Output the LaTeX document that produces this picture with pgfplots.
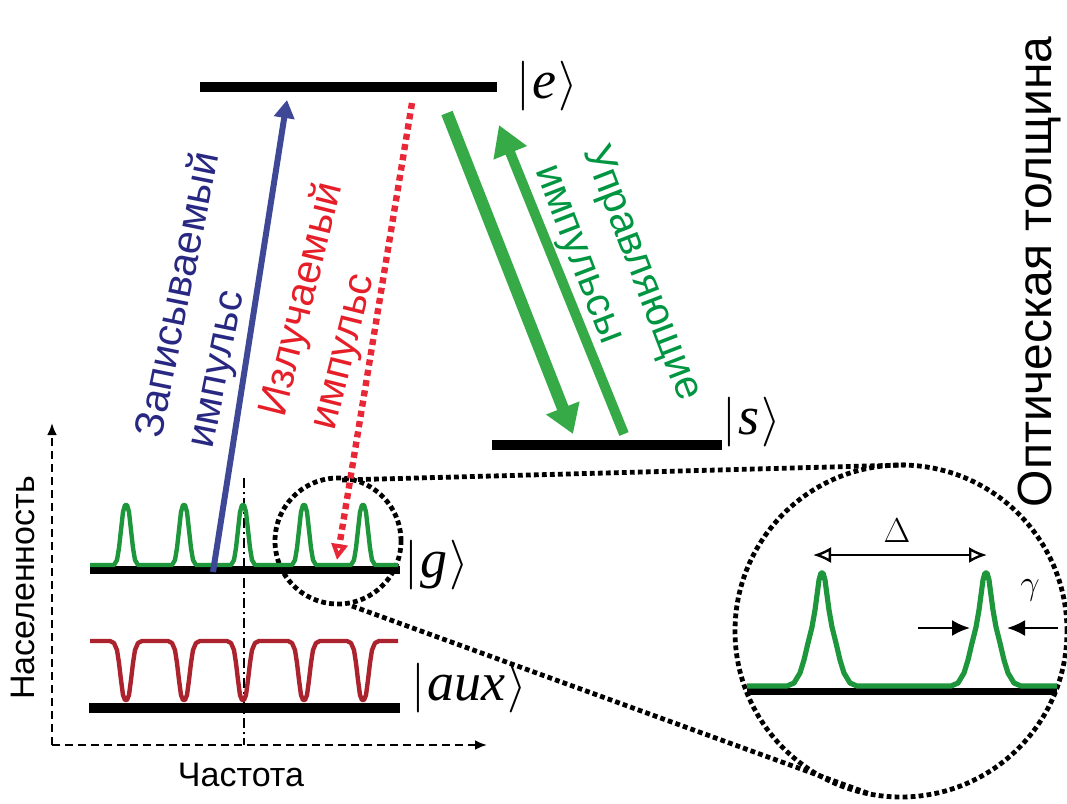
\documentclass[border=0pt]{standalone}
\usepackage{pgfplots}
\pgfplotsset{compat=1.18}
\usepackage{fontspec}
\setmainfont{Liberation Sans}
\newfontfamily\timesf{Liberation Serif}
\usepackage{graphicx}
\usetikzlibrary{arrows.meta}
\definecolor{blueA}{RGB}{62,72,150}
\definecolor{blueT}{RGB}{40,40,130}
\definecolor{redA}{RGB}{232,40,55}
\definecolor{redT}{RGB}{230,30,40}
\definecolor{greenA}{RGB}{55,170,72}
\definecolor{greenT}{RGB}{0,150,65}
\definecolor{greenC}{RGB}{30,150,60}
\definecolor{darkredC}{RGB}{170,35,45}
\newcommand{\ket}[1]{$\vert$\kern1pt{\timesf\itshape #1}\kern1pt$\rangle$}
\begin{document}
\begin{tikzpicture}
\begin{axis}[
  scale only axis, width=533.5pt, height=402pt,
  xmin=0, xmax=1067, ymin=0, ymax=804, y dir=reverse,
  hide axis, clip=false,
]
% dotted circles and connecting lines
\draw[line width=2.4pt, dash pattern=on 2.4pt off 1.6pt] (axis cs:338,541) circle[radius=31.5pt];
\draw[line width=2.4pt, dash pattern=on 2.4pt off 1.6pt] (axis cs:901,631) circle[radius=83pt];
\addplot[line width=2.4pt, dash pattern=on 2.4pt off 1.6pt] coordinates {(342,480) (905,465)};
\addplot[line width=2.4pt, dash pattern=on 2.4pt off 1.6pt] coordinates {(352,606) (870,794)};
% frequency / population axes
\addplot[line width=1.3pt, dash pattern=on 4pt off 2.5pt, -{Latex[length=6pt,width=5pt]}] coordinates {(52,745) (52,423)};
\addplot[line width=1.3pt, dash pattern=on 4pt off 2.5pt, -{Latex[length=6pt,width=5pt]}] coordinates {(52,745) (487,745)};
\addplot[line width=1.3pt, dash pattern=on 5pt off 2pt on 1pt off 2pt] coordinates {(244,478) (244,745)};
% energy levels
\addplot[line width=5pt, black] coordinates {(200,87) (497,87)};
\addplot[line width=5pt, black] coordinates {(492,445) (722,445)};
\addplot[line width=4pt, black] coordinates {(90,570) (400,570)};
\addplot[line width=5pt, black] coordinates {(89,708) (400,708)};
\addplot[line width=3.5pt, black] coordinates {(747,691) (1057,691)};
% green comb |g>
\addplot[line width=2.2pt, greenC, line join=round] coordinates {
(90,565)
(114,565)(117,560)(119,548)(121,530)(123,512)(125,505)(127,505)(129,512)(131,530)(133,548)(135,560)(138,565)
(172,565)(175,560)(177,548)(179,530)(181,512)(183,505)(185,505)(187,512)(189,530)(191,548)(193,560)(196,565)
(231,565)(234,560)(236,548)(238,530)(240,512)(242,505)(244,505)(246,512)(248,530)(250,548)(252,560)(255,565)
(292,565)(295,560)(297,548)(299,530)(301,512)(303,505)(305,505)(307,512)(309,530)(311,548)(313,560)(316,565)
(351,565)(354,560)(356,548)(358,530)(360,512)(362,505)(364,505)(366,512)(368,530)(370,548)(372,560)(375,565)
(398,565)};
% red comb |aux>
\addplot[line width=2.2pt, darkredC, line join=round] coordinates {
(90,641)
(110,641)(114,643)(117,650)(119,663)(121,680)(123,695)(125,700)(127,700)(129,695)(131,680)(133,663)(135,650)(138,643)(142,641)
(168,641)(172,643)(175,650)(177,663)(179,680)(181,695)(183,700)(185,700)(187,695)(189,680)(191,663)(193,650)(196,643)(200,641)
(227,641)(231,643)(234,650)(236,663)(238,680)(240,695)(242,700)(244,700)(246,695)(248,680)(250,663)(252,650)(255,643)(259,641)
(288,641)(292,643)(295,650)(297,663)(299,680)(301,695)(303,700)(305,700)(307,695)(309,680)(311,663)(313,650)(316,643)(320,641)
(347,641)(351,643)(354,650)(356,663)(358,680)(360,695)(362,700)(364,700)(366,695)(368,680)(370,663)(372,650)(375,643)(379,641)
(398,641)};
% zoomed comb
\addplot[line width=2.6pt, greenC, line join=round] coordinates {
(747,686)
(787,686)(794,683)(800,673)(804,660)(808,643)(812,627)(815,610)(817,595)(819,580)(821,573)(823,573)(825,580)(827,595)(829,610)(832,627)(836,643)(840,660)(844,673)(850,683)(857,686)
(951,686)(958,683)(964,673)(968,660)(972,643)(976,627)(979,610)(981,595)(983,580)(985,573)(987,573)(989,580)(991,595)(993,610)(996,627)(1000,643)(1004,660)(1008,673)(1014,683)(1021,686)
(1057,686)};
% Delta and gamma arrows
\addplot[line width=1.2pt, {Latex[open,length=9pt,width=8pt,fill=white]}-{Latex[open,length=9pt,width=8pt,fill=white]}] coordinates {(813,555) (987,555)};
\addplot[line width=1.2pt, -{Latex[length=9pt,width=8pt]}] coordinates {(918,628) (970,628)};
\addplot[line width=1.2pt, -{Latex[length=9pt,width=8pt]}] coordinates {(1058,628) (1007,628)};
% transitions
\addplot[line width=3pt, blueA, -{Triangle[length=9pt,width=10pt]}] coordinates {(213,572) (287,100)};
\addplot[line width=3.2pt, redA, dash pattern=on 3pt off 2.2pt, -{Triangle[open,length=8pt,width=8pt,fill=white]}] coordinates {(412,103) (337,560)};
\addplot[line width=6pt, greenA, -{Triangle[length=14pt,width=17pt]}] coordinates {(447,113) (573,434)};
\addplot[line width=5pt, greenA, -{Triangle[length=15pt,width=17pt]}] coordinates {(624,434) (499,125)};
% labels
\node[font=\fontsize{20.5}{26}\selectfont, text=blueT, align=left, rotate=78.6] at (axis cs:205,300) {Записываемый\\импульс};
\node[font=\fontsize{20.5}{26}\selectfont, text=redT, align=left, rotate=76] at (axis cs:328,306) {Излучаемый\\импульс};
\node[font=\fontsize{20.5}{26}\selectfont, text=greenT, align=left, rotate=-69] at (axis cs:617,283) {Управляющие\\импульсы};
\node[font=\fontsize{24}{28}\selectfont, rotate=90] at (axis cs:1040,272) {Оптическая толщина};
\node[font=\fontsize{17}{20}\selectfont, rotate=90] at (axis cs:23,588) {Населенность};
\node[font=\fontsize{17}{20}\selectfont] at (axis cs:241,775) {Частота};
\node[font=\fontsize{27}{32}\selectfont] at (axis cs:547,86) {\ket{e}};
\node[font=\fontsize{27}{32}\selectfont] at (axis cs:752,422) {\ket{s}};
\node[font=\fontsize{27}{32}\selectfont] at (axis cs:437,565) {\ket{g}};
\node[font=\fontsize{27}{32}\selectfont] at (axis cs:469,688) {\ket{aux}};
\node[font=\fontsize{16}{19}\selectfont] at (axis cs:897,531) {$\Delta$};
\node[font=\fontsize{17}{20}\selectfont] at (axis cs:1030,590) {$\gamma$};
\end{axis}
\pgfresetboundingbox
\path[use as bounding box] (current axis.south west) rectangle (current axis.north east);
\end{tikzpicture}
\end{document}
